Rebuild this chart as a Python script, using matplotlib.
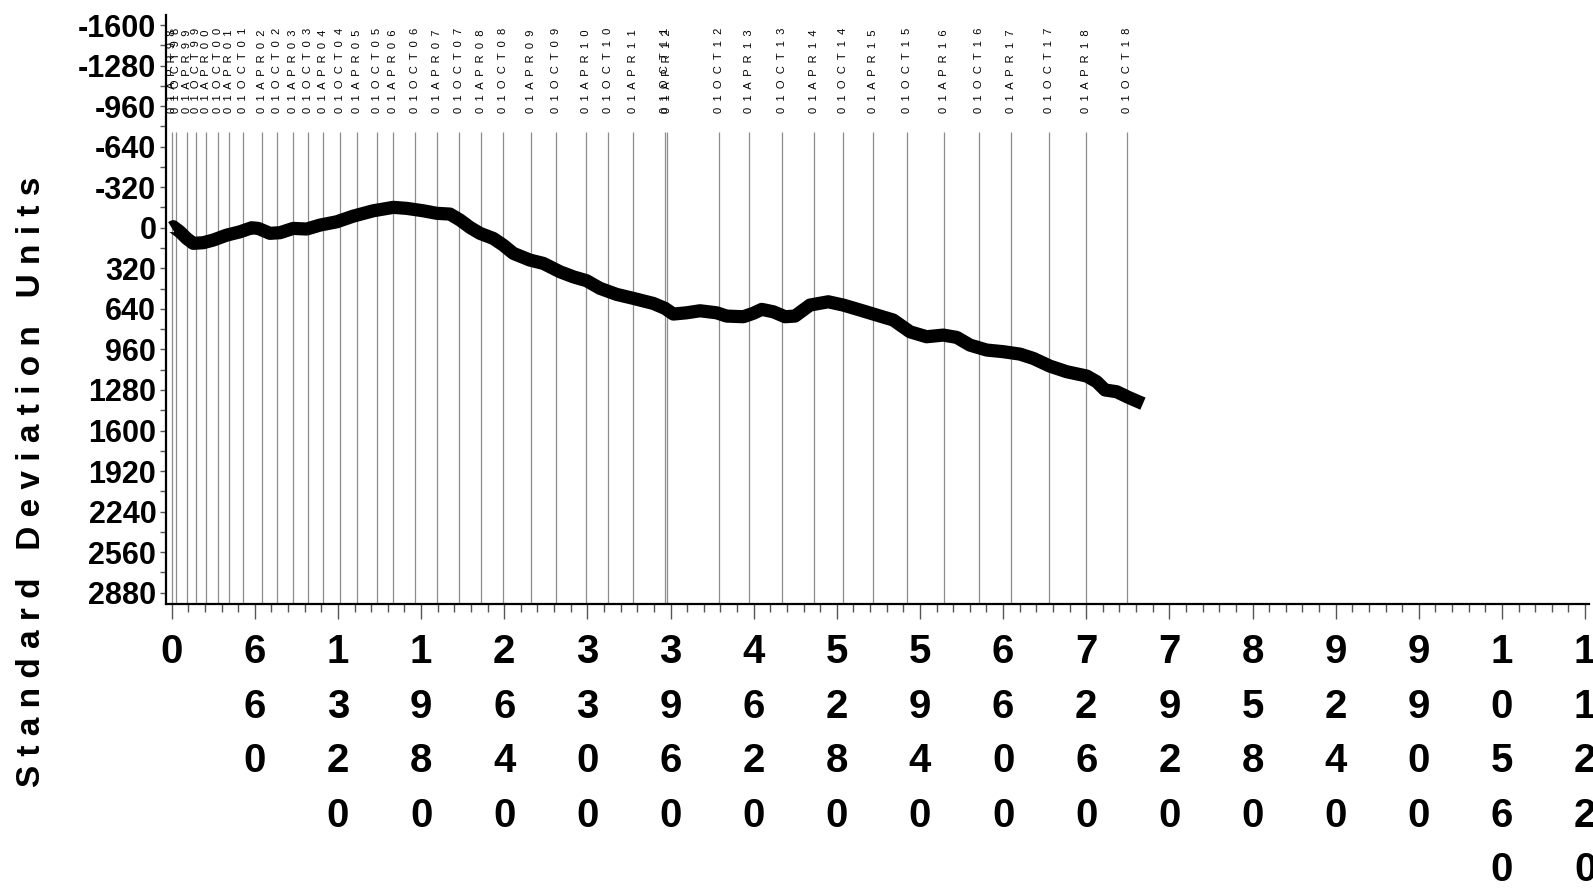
import matplotlib
matplotlib.use('Agg')
import matplotlib.pyplot as plt
from matplotlib.ticker import MultipleLocator

# cumulative index vs. standard deviation units
obs = [0, 13, 66, 119, 171, 251, 330, 437, 542, 635, 687, 780, 860, 965, 1072,
       1177, 1310, 1442, 1600, 1759, 1866, 1997, 2104, 2209, 2289, 2368, 2447,
       2553, 2632, 2712, 2844, 2950, 3082, 3188, 3294, 3400, 3533, 3664, 3823,
       3916, 3982, 4088, 4194, 4326, 4406, 4538, 4617, 4684, 4776, 4869, 4948,
       5067, 5212, 5331, 5464, 5597, 5728, 5861, 5993, 6125, 6232, 6337, 6470,
       6602, 6734, 6840, 6972, 7105, 7264, 7343, 7409, 7502, 7594, 7710]
sdu = [0, -8, 32, 84, 123, 118, 97, 58, 32, 0, 5, 44, 39, 5, 10,
       -21, -47, -92, -134, -161, -153, -134, -114, -108, -61, -3, 44,
       84, 137, 202, 255, 281, 347, 387, 418, 478, 526, 557, 597,
       636, 681, 671, 655, 671, 697, 702, 675, 644, 663, 702, 697,
       610, 584, 610, 649, 689, 728, 821, 860, 847, 865, 926, 965,
       978, 997, 1031, 1092, 1136, 1170, 1215, 1280, 1294, 1338, 1388]

# reference dates
ref_x = [0, 32, 125, 191, 272, 370, 455, 568, 714, 838, 965, 1086, 1201, 1338,
         1468, 1626, 1759, 1931, 2103, 2280, 2453, 2632, 2852, 3050, 3286,
         3465, 3659, 3915, 3930, 4344, 4584, 4846, 5098, 5330, 5568, 5838,
         6132, 6410, 6663, 6965, 7262, 7584]
ref_labels = ['01APR98', '01OCT98', '01APR99', '01OCT99', '01APR00', '01OCT00',
              '01APR01', '01OCT01', '01APR02', '01OCT02', '01APR03', '01OCT03',
              '01APR04', '01OCT04', '01APR05', '01OCT05', '01APR06', '01OCT06',
              '01APR07', '01OCT07', '01APR08', '01OCT08', '01APR09', '01OCT09',
              '01APR10', '01OCT10', '01APR11', '01OCT11', '01APR12', '01OCT12',
              '01APR13', '01OCT13', '01APR14', '01OCT14', '01APR15', '01OCT15',
              '01APR16', '01OCT16', '01APR17', '01OCT17', '01APR18', '01OCT18']

xticks = [0, 660, 1320, 1980, 2640, 3300, 3960, 4620, 5280, 5940, 6600, 7260,
          7920, 8580, 9240, 9900, 10560, 11220]
yticks = [-1600, -1280, -960, -640, -320, 0, 320, 640, 960, 1280, 1600, 1920,
          2240, 2560, 2880]

sans = ['Liberation Sans', 'DejaVu Sans']

fig = plt.figure(figsize=(15.93, 8.92), dpi=100)
ax = fig.add_axes([166 / 1593, 1 - 604 / 892, (1589 - 166) / 1593, (604 - 15) / 892])

ax.vlines(ref_x, -758, 2969, color='#8c8c8c', lw=0.9, zorder=1)
for x, lab in zip(ref_x, ref_labels):
    ax.text(x, -905, '  '.join(lab), rotation=90, ha='center', va='bottom',
            fontsize=8, family=sans)

ax.plot(obs, sdu, color='black', lw=9.5, solid_capstyle='butt',
        solid_joinstyle='round', zorder=3)

ax.set_xlim(-45, 11251)
ax.set_ylim(2969, -1679)

ax.spines['top'].set_visible(False)
ax.spines['right'].set_visible(False)
ax.spines['left'].set_linewidth(1.6)
ax.spines['bottom'].set_linewidth(1.6)

ax.set_xticks(xticks)
ax.set_xticklabels(['\n'.join(str(v)) for v in xticks], fontsize=29,
                   fontweight='bold', family=sans)
ax.set_yticks(yticks)
ax.set_yticklabels([str(v) for v in yticks], fontsize=22, fontweight='bold',
                   family=sans)
for lbl in ax.get_xticklabels():
    lbl.set_linespacing(1.55)
ax.xaxis.set_minor_locator(MultipleLocator(132))
ax.yaxis.set_minor_locator(MultipleLocator(160))
ax.tick_params(axis='x', which='major', length=11, width=1, color='#555555', pad=10)
ax.tick_params(axis='x', which='minor', length=6, width=1, color='#555555')
ax.tick_params(axis='y', which='major', length=4, width=1, color='#555555', pad=3)
ax.tick_params(axis='y', which='minor', length=4, width=1, color='#555555')

ylab = '   '.join(' '.join(w) for w in ['Standard', 'Deviation', 'Units'])
fig.text(0.020, 1 - 482 / 892, ylab, rotation=90, ha='center', va='center',
         fontsize=24, fontweight='bold', family=sans)

fig.savefig('out.png', dpi=100)
